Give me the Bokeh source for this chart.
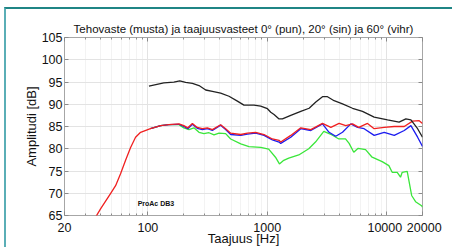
from bokeh.plotting import figure
from bokeh.models import Label, LinearAxis, LogAxis, Range1d, FixedTicker
from bokeh.embed import file_html
from bokeh.resources import INLINE

# ---- data ----
black_f = [102, 136, 165, 185, 207, 236, 268, 305, 347, 407, 478, 562, 638, 774, 881,
           1004, 1070, 1140, 1256, 1340, 1574, 1910, 2244, 2553, 2904, 3198, 3632, 4272,
           5184, 6284, 7872, 10190, 12740, 14510, 15990, 18200, 20000]
black_db = [94.05, 94.8, 94.95, 95.25, 94.9, 94.7, 94.2, 93.2, 92.9, 92.5, 91.8, 90.7, 89.8,
            89.8, 89.6, 89.0, 88.2, 87.7, 86.7, 86.7, 87.5, 88.4, 89.1, 90.5, 91.7, 91.7,
            90.8, 90.1, 89.1, 88.4, 87.1, 86.5, 86.0, 86.7, 86.5, 84.5, 82.6]

red_f = [30, 36.4, 40.1, 48.6, 53.6, 59, 65, 71.6, 78.8, 86.8, 105, 128, 150, 182, 200, 216,
         236, 259, 286, 315, 347, 407, 448, 494, 600, 682, 800, 940, 1104, 1256, 1297, 1574,
         1910, 2317, 2904, 3412, 4000, 4552, 5184, 5848, 6920, 7872, 9550, 11590, 14060,
         16520, 18760, 20000]
red_db = [62.5, 64.6, 66.5, 69.9, 71.7, 74.4, 77.4, 80.3, 82.6, 83.7, 84.5, 85.2, 85.4, 85.6,
          85.2, 84.7, 85.7, 84.8, 84.5, 84.7, 84.3, 85.4, 84.5, 83.5, 83.2, 83.5, 83.7, 83.2,
          82.2, 81.9, 81.5, 83.0, 84.7, 84.3, 85.7, 84.8, 85.7, 85.2, 85.6, 84.8, 85.7, 84.5,
          84.8, 85.0, 85.0, 86.2, 86.3, 85.7]

blue_f = [105, 128, 150, 182, 200, 216, 236, 259, 286, 315, 347, 407, 448, 494, 600, 682, 800,
          940, 1104, 1256, 1297, 1574, 1910, 2317, 2904, 3296, 3751, 4272, 5012, 5716, 6486,
          7872, 9550, 11590, 14060, 15990, 18200, 20000]
blue_db = [84.5, 85.2, 85.4, 85.5, 85.0, 84.5, 85.5, 84.6, 84.3, 84.5, 84.1, 85.3, 84.3, 83.2,
           83.0, 83.3, 83.5, 83.0, 82.0, 81.5, 81.2, 82.6, 84.5, 84.1, 85.6, 83.7, 82.8, 83.7,
           85.6, 84.8, 84.5, 83.0, 83.7, 83.0, 84.1, 85.2, 82.6, 80.5]

green_f = [105, 128, 150, 182, 200, 221, 243, 268, 295, 325, 358, 394, 448, 494, 600, 703, 881,
           1028, 1172, 1265, 1375, 1514, 1837, 2228, 2536, 2978, 3493, 3980, 4528, 4853, 5309,
           5780, 6668, 7568, 9184, 10450, 11140, 12280, 13090, 13520, 14890, 16220, 17500,
           19650, 20000]
green_db = [84.5, 85.2, 85.4, 85.4, 84.7, 84.3, 84.7, 83.7, 83.4, 83.6, 83.1, 83.5, 83.4, 82.2,
            81.1, 80.5, 80.3, 79.9, 78.1, 76.6, 77.4, 77.9, 78.6, 80.0, 81.5, 83.9, 83.1, 82.2,
            82.2, 81.2, 79.2, 80.1, 79.8, 78.1, 77.1, 76.2, 74.7, 74.7, 73.6, 74.7, 74.9, 69.5,
            68.1, 67.2, 66.9]

x_ticks = [20, 100, 1000, 10000, 20000]
x_tick_labels = ["20", "100", "1000", "10000\u00a0", "\u00a020000"]
y_ticks = [65, 70, 75, 80, 85, 90, 95, 100, 105]
x_minor = [30, 40, 50, 60, 70, 80, 90, 200, 300, 400, 500, 600, 700, 800, 900,
           2000, 3000, 4000, 5000, 6000, 7000, 8000, 9000]
note_text = "ProAc DB3"
note_pos = (82, 67.7)

TITLE = "Tehovaste (musta) ja taajuusvasteet 0° (pun), 20° (sin) ja 60° (vihr)"
FONT = "Liberation Sans"

p = figure(width=448, height=240, x_axis_type="log", output_backend="svg",
           toolbar_location=None, x_range=Range1d(20, 20000), y_range=Range1d(65, 105),
           min_border_left=58, min_border_right=32, min_border_top=28, min_border_bottom=34,
           title=TITLE)
p.styles = {"border-top": "2px solid #1f8585", "border-left": "2px solid #5aaeb6",
            "margin-left": "4px", "margin-top": "7px"}

p.title.text_font = FONT
p.title.text_font_size = "11.5px"
p.title.text_font_style = "normal"
p.title.align = "center"
p.title.text_color = "#111111"
p.title.standoff = 5
p.title.offset = 4

p.outline_line_color = "#a6a6a6"
p.background_fill_color = "white"
p.border_fill_color = "white"

# grids
p.xgrid.ticker = FixedTicker(ticks=x_ticks, minor_ticks=x_minor)
p.xgrid.grid_line_color = "#e3e3e3"
p.xgrid.minor_grid_line_color = "#e6e6e6"
p.xgrid.minor_grid_line_dash = "1 1"
p.ygrid.ticker = FixedTicker(ticks=y_ticks)
p.ygrid.grid_line_color = "#e3e3e3"

# axes
xa = p.xaxis[0]
xa.ticker = FixedTicker(ticks=x_ticks, minor_ticks=x_minor)
xa.major_label_overrides = dict(zip(x_ticks, x_tick_labels))
ya = p.yaxis[0]
ya.ticker = FixedTicker(ticks=y_ticks)
for ax in (xa, ya):
    ax.axis_line_color = None
    ax.major_tick_line_color = "#8a8a8a"
    ax.minor_tick_line_color = "#8a8a8a"
    ax.major_tick_out = 0
    ax.major_tick_in = 4
    ax.minor_tick_out = 0
    ax.minor_tick_in = 2
    ax.major_label_text_font = FONT
    ax.major_label_text_font_size = "12.5px"
    ax.major_label_text_color = "#111111"
    ax.axis_label_text_font = FONT
    ax.axis_label_text_font_size = "13px"
    ax.axis_label_text_font_style = "normal"
    ax.axis_label_text_color = "#111111"
xa.axis_label = "Taajuus [Hz]"
ya.axis_label = "Amplitudi [dB]"
xa.major_label_standoff = 5
xa.axis_label_standoff = -7
ya.major_label_standoff = 2
ya.axis_label_standoff = 0

# mirrored tick marks on top and right (labels not drawn)
top = LogAxis(ticker=FixedTicker(ticks=x_ticks, minor_ticks=x_minor))
right = LinearAxis(ticker=FixedTicker(ticks=y_ticks))
for ax in (top, right):
    ax.axis_line_color = None
    ax.major_tick_line_color = "#8a8a8a"
    ax.minor_tick_line_color = "#8a8a8a"
    ax.major_tick_out = 0
    ax.major_tick_in = 4
    ax.minor_tick_out = 0
    ax.minor_tick_in = 2
    ax.major_label_text_font_size = "1px"
    ax.major_label_text_color = None
    ax.major_label_standoff = 0
right.minor_tick_in = 0
p.add_layout(top, "above")
p.add_layout(right, "right")

p.line(green_f, green_db, line_color="#3ae63a", line_width=1.3)
p.line(blue_f, blue_db, line_color="#1c1cf0", line_width=1.3)
p.line(red_f, red_db, line_color="#f02020", line_width=1.3)
p.line(black_f, black_db, line_color="#222222", line_width=1.3)

p.add_layout(Label(x=note_pos[0], y=note_pos[1], text=note_text, text_font=FONT,
                   text_font_size="7px", text_font_style="bold", text_color="#111111",
                   text_baseline="middle"))

open("out.html", "w").write(file_html(p, INLINE))
